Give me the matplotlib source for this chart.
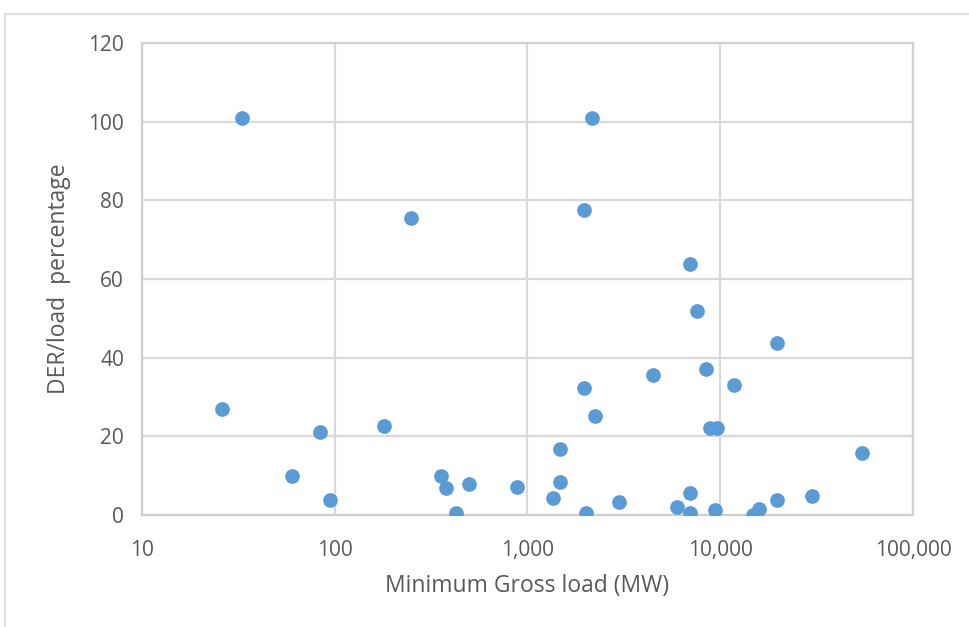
import matplotlib
matplotlib.use("Agg")
from matplotlib import pyplot as plt
from matplotlib.ticker import FixedLocator, FuncFormatter
from matplotlib.lines import Line2D

# minimum gross load (MW) and DER/load percentage
min_load = [33, 2150, 26, 60, 84, 94, 180, 248, 358, 380, 428, 500, 887,
            1350, 1470, 1480, 1970, 1970, 2000, 2250, 3000, 4500, 6000,
            7000, 7000, 7000, 7600, 8400, 8900, 9600, 9400, 11800, 14800,
            15900, 19700, 19700, 30000, 54400]
der_pct = [101, 101, 27, 10, 21, 3.8, 22.6, 75.5, 10, 6.9, 0.5, 7.9, 7.1,
           4.4, 8.4, 16.8, 32.3, 77.5, 0.5, 25.2, 3.2, 35.5, 2.0,
           63.8, 5.6, 0.5, 51.9, 37.1, 22.1, 22.1, 1.3, 33.0, 0.0,
           1.5, 43.7, 3.8, 4.8, 15.8]

x_ticks = [10, 100, 1000, 10000, 100000]
y_ticks = [0, 20, 40, 60, 80, 100, 120]

plt.rcParams['font.family'] = ['Open Sans', 'DejaVu Sans']

fig = plt.figure(figsize=(9.69, 6.27), dpi=100)
ax = fig.add_axes([0.1465, 0.1786, 0.7957, 0.7528])

ax.scatter(min_load, der_pct, s=112, color='#5B9BD5', zorder=3, linewidths=0)

ax.set_xscale('log')
ax.set_xlim(10, 100000)
ax.set_ylim(0, 120)
ax.xaxis.set_major_locator(FixedLocator(x_ticks))
ax.xaxis.set_minor_locator(FixedLocator([]))
ax.xaxis.set_major_formatter(FuncFormatter(lambda v, p: f'{int(v):,}'))
ax.yaxis.set_major_locator(FixedLocator(y_ticks))

ax.grid(True, color='#D9D9D9', linewidth=1.6, zorder=0)
ax.set_axisbelow(True)
for sp in ax.spines.values():
    sp.set_color('#D0D0D0')
    sp.set_linewidth(1.6)

ax.tick_params(length=0, labelsize=15, colors='#595959')
ax.tick_params(axis='x', pad=18)
ax.tick_params(axis='y', pad=13)

ax.set_xlabel('Minimum Gross load (MW)', fontsize=16.5, color='#595959', labelpad=9)
ax.set_ylabel('DER/load  percentage', fontsize=16.5, color='#595959', labelpad=12)

# outer chart border (top and left visible)
fig.add_artist(Line2D([5 / 969, 1.0], [1 - 14 / 627, 1 - 14 / 627],
                      color='#D9D9D9', linewidth=1.2))
fig.add_artist(Line2D([5 / 969, 5 / 969], [0.0, 1 - 14 / 627],
                      color='#D9D9D9', linewidth=1.2))

fig.savefig('out.png', dpi=100)
